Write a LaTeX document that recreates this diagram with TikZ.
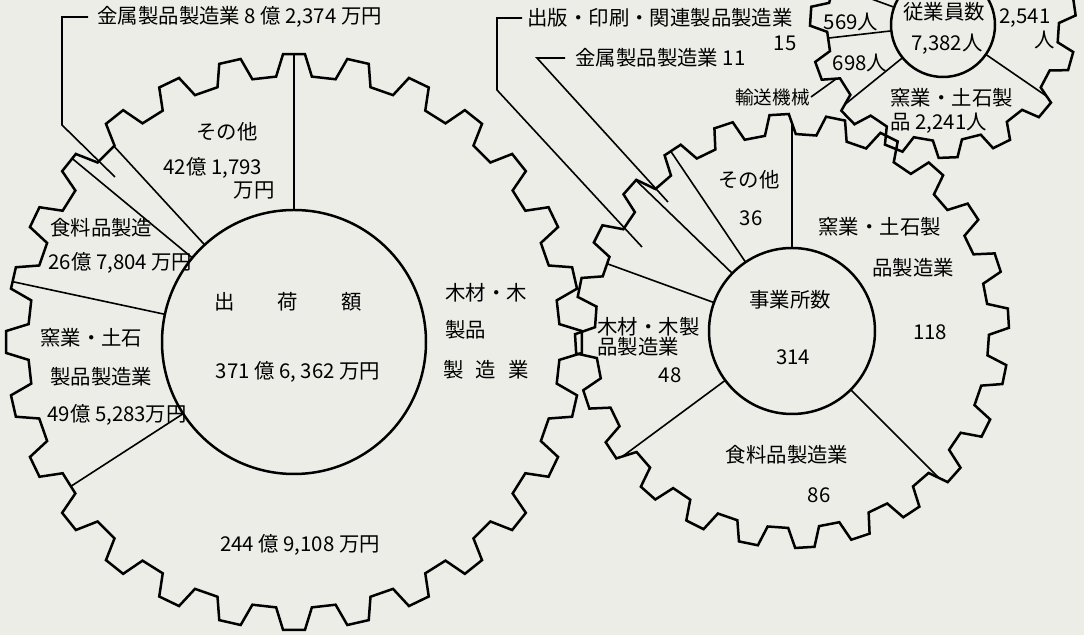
\documentclass[tikz,border=0pt]{standalone}
\usepackage{fontspec}
\setmainfont{Noto Sans CJK JP}
\definecolor{paper}{RGB}{237,237,232}
\tikzset{
  gearline/.style={line width=1.25pt, line join=miter},
  sector/.style={line width=0.8pt},
  hub/.style={line width=1.25pt},
  leader/.style={line width=0.8pt},
  lab/.style={inner sep=0pt, font=\fontsize{10.2}{12}\selectfont},
  smalllab/.style={inner sep=0pt, font=\fontsize{9.3}{11}\selectfont},
}
% gear outline: #1 teeth, #2 angle of a tooth centre, #3 tip radius, #4 root radius
\newcommand\gearp[4]{({#2-0.3*360/#1}:#4)
  \foreach \i in {1,...,#1}{
    -- ({#2+(\i-1)*360/#1-0.3*360/#1}:#4)
    -- ({#2+(\i-1)*360/#1-0.17*360/#1}:#3)
    -- ({#2+(\i-1)*360/#1+0.17*360/#1}:#3)
    -- ({#2+(\i-1)*360/#1+0.3*360/#1}:#4)
  } -- cycle}
\begin{document}
\begin{tikzpicture}[x=0.5pt,y=-0.5pt]
\fill[paper] (0,0) rectangle (1084,635);
\useasboundingbox (0,0) rectangle (1084,635);

% ---------- big gear: shipments ----------
\begin{scope}[shift={(294,342)},yscale=-1]
  \begin{scope}
    \clip \gearp{28}{90}{288}{266};
    \foreach \a in {90,132.6,140.4,167.9,212.9} \draw[sector] (\a:132) -- (\a:330);
  \end{scope}
  \draw[gearline] \gearp{28}{90}{288}{266};
  \draw[hub] (0,0) circle[radius=132];
\end{scope}

% ---------- middle gear: establishments ----------
\begin{scope}[shift={(792,331)},yscale=-1]
  \begin{scope}
    \clip \gearp{24}{93.4}{217}{197};
    \foreach \a in {90,124,136,160,216.5,-45} \draw[sector] (\a:83) -- (\a:260);
  \end{scope}
  \draw[gearline] \gearp{24}{93.4}{217}{197};
  \draw[hub] (0,0) circle[radius=83];
\end{scope}

% ---------- small gear: employees ----------
\begin{scope}[shift={(943,25)},yscale=-1]
  \begin{scope}
    \clip \gearp{15}{-87.8}{133}{116};
    \foreach \a in {91,160,186.5,219,-34.5} \draw[sector] (\a:52) -- (\a:170);
  \end{scope}
  \draw[gearline] \gearp{15}{-87.8}{133}{116};
  \draw[hub] (0,0) circle[radius=52];
\end{scope}

% ---------- labels: big gear ----------
\node[lab,anchor=west] (k1) at (97,17) {金属製品製造業 8 億 2,374 万円};
\node[lab] (b1) at (227,132) {その他};
\node[lab,anchor=west] (b2) at (163,168) {42億 1,793};
\node[lab,anchor=east] (b3) at (275,190) {万円};
\node[lab,anchor=west] (b4) at (50,228) {食料品製造};
\node[lab,anchor=west] (b5) at (48,263) {26億 7,804 万円};
\node[lab] (b6) at (288,302) {出\hspace{21.5pt}荷\hspace{21.5pt}額};
\node[lab,anchor=west] (b7) at (40,338) {窯業・土石};
\node[lab,anchor=west] (b8) at (50,377) {製品製造業};
\node[lab,anchor=west] (b9) at (47,415) {49億 5,283万円};
\node[lab] (b10) at (298,372) {371 億 6, 362 万円};
\node[lab] (b11) at (300,545) {244 億 9,108 万円};
\node[lab,anchor=west] (b12) at (445,293) {木材・木};
\node[lab,anchor=west] (b13) at (445,330) {製品};
\node[lab,anchor=west] (b14) at (443,370) {製\hspace{6pt}造\hspace{6pt}業};

% ---------- labels: middle gear ----------
\node[lab,anchor=west] (k2) at (527,18) {出版・印刷・関連製品製造業};
\node[lab] (m1) at (785,43) {15};
\node[lab,anchor=west] (k3) at (575,58) {金属製品製造業 11};
\node[lab,anchor=west] (m2) at (718,180) {その他};
\node[lab] (m3) at (751,218) {36};
\node[lab,anchor=west] (m4) at (818,227) {窯業・土石製};
\node[lab,anchor=west] (m5) at (872,268) {品製造業};
\node[lab] (m6) at (930,332) {118};
\node[lab] (m7) at (790,300) {事業所数};
\node[lab] (m8) at (793,357) {314};
\node[lab,anchor=west] (m9) at (597,327) {木材・木製};
\node[lab,anchor=west] (m10) at (597,347) {品製造業};
\node[lab] (m11) at (670,375) {48};
\node[lab] (m12) at (787,455) {食料品製造業};
\node[lab] (m13) at (819,495) {86};

% ---------- labels: small gear ----------
\node[lab] (s1) at (944,12) {従業員数};
\node[lab] (s2) at (947,44) {7,382人};
\node[lab] (s3) at (851,22) {569人};
\node[lab] (s4) at (860,63) {698人};
\node[lab] (s5) at (1025,18) {2,541};
\node[lab] (s6) at (1045,40) {人};
\node[lab,anchor=west] (s7) at (890,98) {窯業・土石製};
\node[lab,anchor=west] (s8) at (890,123) {品 2,241人};
\node[smalllab,anchor=east] (k4) at (810,97) {輸送機械};

% ---------- leaders ----------
\coordinate (k1a) at (62,17);
\coordinate (k1b) at (62,125);
\coordinate (k1c) at (115,177);
\draw[leader] ([xshift=-4.5pt]k1.west) -- (k1a) -- (k1b) -- (k1c);
\coordinate (k2a) at (497,18);
\coordinate (k2b) at (497,90);
\coordinate (k2c) at (642,247);
\draw[leader] ([xshift=-2.5pt]k2.west) -- (k2a) -- (k2b) -- (k2c);
\coordinate (k3a) at (537,58);
\coordinate (k3c) at (668,202);
\draw[leader] ([xshift=-5pt]k3.west) -- (k3a) -- (k3c);
\coordinate (k4c) at (836,79);
\draw[leader] ([xshift=0.5pt]k4.east) -- (k4c);
\end{tikzpicture}
\end{document}
